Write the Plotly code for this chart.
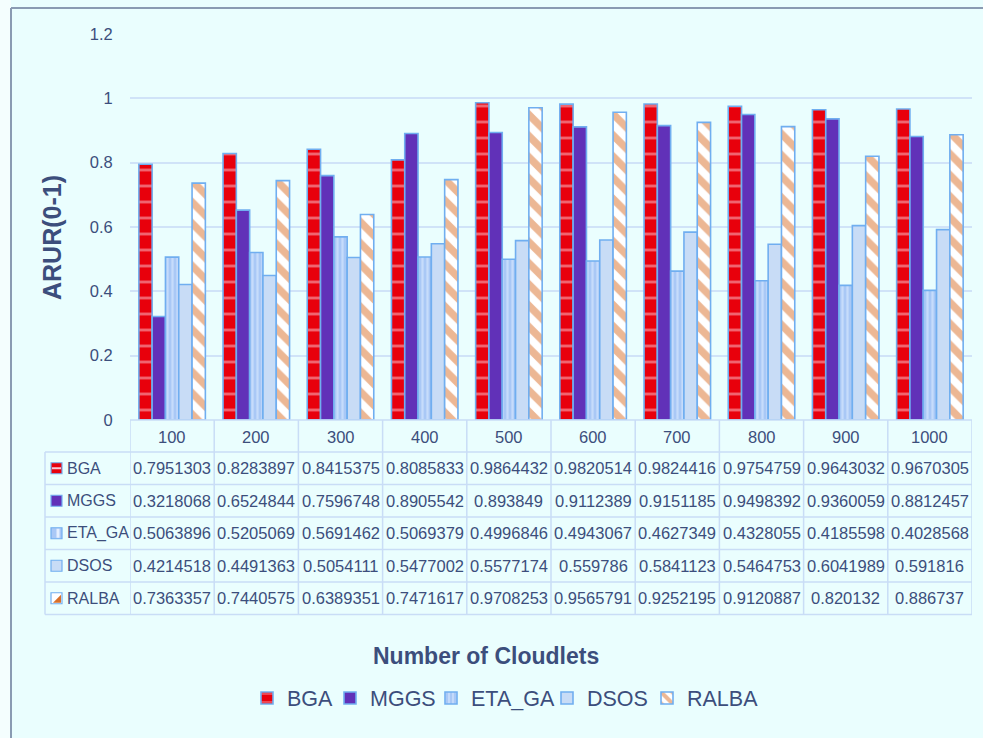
import plotly.graph_objects as go

# Average resource utilization ratio per algorithm and number of cloudlets
cloudlets = ["100", "200", "300", "400", "500", "600", "700", "800", "900", "1000"]
bga = [0.7951303, 0.8283897, 0.8415375, 0.8085833, 0.9864432,
       0.9820514, 0.9824416, 0.9754759, 0.9643032, 0.9670305]
mggs = [0.3218068, 0.6524844, 0.7596748, 0.8905542, 0.893849,
        0.9112389, 0.9151185, 0.9498392, 0.9360059, 0.8812457]
eta_ga = [0.5063896, 0.5205069, 0.5691462, 0.5069379, 0.4996846,
          0.4943067, 0.4627349, 0.4328055, 0.4185598, 0.4028568]
dsos = [0.4214518, 0.4491363, 0.5054111, 0.5477002, 0.5577174,
        0.559786, 0.5841123, 0.5464753, 0.6041989, 0.591816]
ralba = [0.7363357, 0.7440575, 0.6389351, 0.7471617, 0.9708253,
         0.9565791, 0.9252195, 0.9120887, 0.820132, 0.886737]
series_names = ["BGA", "MGGS", "ETA_GA", "DSOS", "RALBA"]
series_values = [bga, mggs, eta_ga, dsos, ralba]
y_ticks = [0, 0.2, 0.4, 0.6, 0.8, 1, 1.2]

W, H = 983, 738
L, R, T, B = 130, 11, 34, 318
PW, PH = W - L - R, H - T - B

TEXT = "#3c4e7c"
BG = "#eafefe"
BORDER = "#70aef0"
GRID = "#d0e3f8"
SANS = "Liberation Sans, Arial, sans-serif"
TABLE_FS = 16.5


def px(p):
    return (p - L) / PW


def py(p):
    return (H - B - p) / PH


styles = {
    "BGA": dict(color="#e8000c", pattern=dict(shape="-", fgcolor="#f7c9d4", bgcolor="#e8000c",
                                              size=16, solidity=0.18, fillmode="overlay")),
    "MGGS": dict(color="#6131b8"),
    "ETA_GA": dict(color="#a9c8f6", pattern=dict(shape="|", fgcolor="#e4efff", bgcolor="#a9c8f6",
                                                 size=5, solidity=0.45, fillmode="overlay")),
    "DSOS": dict(color="#c8dcf6"),
    "RALBA": dict(color="#ffffff", pattern=dict(shape="\\", fgcolor="#d9702a", bgcolor="#ffffff",
                                                size=15, solidity=0.5, fillmode="overlay")),
}

# left edge of each legend entry (one legend box per series)
legend_left = [247, 330, 431, 547, 647]
legend_ids = ["legend", "legend2", "legend3", "legend4", "legend5"]

fig = go.Figure()
for name, vals, lid in zip(series_names, series_values, legend_ids):
    st = styles[name]
    marker = dict(color=st["color"], line=dict(color=BORDER, width=1.6))
    if "pattern" in st:
        marker["pattern"] = st["pattern"]
    fig.add_trace(go.Bar(x=cloudlets, y=vals, name=name, marker=marker, legend=lid))

shapes = []
annotations = []

# Frame around the chart area
shapes.append(dict(type="rect", xref="paper", yref="paper", x0=px(-5), x1=px(11), y0=py(-5), y1=py(745),
                   fillcolor="#f4fefe", line=dict(width=0), layer="below"))
shapes.append(dict(type="line", xref="paper", yref="paper", x0=px(11), x1=px(11), y0=py(8), y1=py(745),
                   line=dict(color="#8a9bb2", width=2)))
shapes.append(dict(type="line", xref="paper", yref="paper", x0=px(11), x1=px(990), y0=py(8), y1=py(8),
                   line=dict(color="#8a9bb2", width=2)))

# Data table under the plot
row_edges = [452, 484.5, 517, 549.5, 582, 614.5]
tline = dict(color="#c9ddf6", width=1.5)
shapes.append(dict(type="line", xref="paper", yref="paper", x0=0, x1=1, y0=py(420), y1=py(420), line=tline))
for r in row_edges:
    shapes.append(dict(type="line", xref="paper", yref="paper", x0=px(45), x1=1, y0=py(r), y1=py(r), line=tline))
shapes.append(dict(type="line", xref="paper", yref="paper", x0=px(45), x1=px(45),
                   y0=py(row_edges[0]), y1=py(row_edges[-1]), line=tline))
for i in range(len(cloudlets) + 1):
    shapes.append(dict(type="line", xref="x", yref="paper", x0=i - 0.5, x1=i - 0.5,
                       y0=py(420), y1=py(row_edges[-1]), line=tline))

for i, c in enumerate(cloudlets):
    annotations.append(dict(x=i, y=py(437), xref="x", yref="paper", text=c, showarrow=False,
                            font=dict(family=SANS, size=TABLE_FS, color=TEXT), xanchor="center", yanchor="middle"))

for k, (name, vals) in enumerate(zip(series_names, series_values)):
    yc = (row_edges[k] + row_edges[k + 1]) / 2
    annotations.append(dict(x=px(65), y=py(yc), xref="paper", yref="paper", text=name, showarrow=False,
                            font=dict(family=SANS, size=16, color=TEXT), xanchor="left", yanchor="middle"))
    for i, v in enumerate(vals):
        annotations.append(dict(x=i, y=py(yc), xref="x", yref="paper", text=str(v), showarrow=False,
                                font=dict(family=SANS, size=TABLE_FS, color=TEXT), xanchor="center", yanchor="middle"))
    # small key swatch in front of the row label
    x0, x1, y0, y1 = 51, 62, yc - 5.5, yc + 5.5
    fill = styles[name]["color"]
    shapes.append(dict(type="rect", xref="paper", yref="paper", x0=px(x0), x1=px(x1), y0=py(y1), y1=py(y0),
                       fillcolor=fill, line=dict(color=BORDER, width=1.2)))
    if name == "BGA":
        shapes.append(dict(type="line", xref="paper", yref="paper", x0=px(x0 + 1), x1=px(x1 - 1),
                           y0=py(yc), y1=py(yc), line=dict(color="#f7c9d4", width=2)))
    elif name == "ETA_GA":
        shapes.append(dict(type="line", xref="paper", yref="paper", x0=px(x0 + 7), x1=px(x0 + 7),
                           y0=py(y1 - 1), y1=py(y0 + 1), line=dict(color="#e4efff", width=3)))
    elif name == "RALBA":
        path = "M {} {} L {} {} L {} {} Z".format(px(x1 - 1), py(y0 + 2), px(x1 - 1), py(y1 - 1),
                                                 px(x0 + 2), py(y1 - 1))
        shapes.append(dict(type="path", xref="paper", yref="paper", path=path,
                           fillcolor="#d9702a", line=dict(width=0)))

# Axis titles
annotations.append(dict(x=px(52), y=py(238), xref="paper", yref="paper", text="<b>ARUR(0-1)</b>",
                        textangle=-90, showarrow=False, font=dict(family=SANS, size=25, color=TEXT),
                        xanchor="center", yanchor="middle"))
annotations.append(dict(x=px(486), y=py(656), xref="paper", yref="paper", text="<b>Number of Cloudlets</b>",
                        showarrow=False, font=dict(family=SANS, size=23, color=TEXT),
                        xanchor="center", yanchor="middle"))

layout_legends = {}
for lid, left in zip(legend_ids, legend_left):
    layout_legends[lid] = dict(orientation="h", x=px(left), y=py(698), xanchor="left", yanchor="middle",
                               font=dict(family=SANS, size=21.5, color=TEXT), bgcolor="rgba(0,0,0,0)",
                               borderwidth=0)

fig.update_layout(
    width=W, height=H,
    margin=dict(l=L, r=R, t=T, b=B, pad=0),
    paper_bgcolor=BG, plot_bgcolor=BG,
    barmode="group", bargap=0.21, bargroupgap=0,
    showlegend=True,
    xaxis=dict(type="category", range=[-0.5, 9.5], showticklabels=False, showgrid=False,
               zeroline=False, showline=False, ticks=""),
    yaxis=dict(range=[0, 1.2], tickvals=y_ticks, showgrid=True, gridcolor=GRID, gridwidth=1.5,
               zeroline=False, showline=False, ticks="outside", ticklen=13, tickcolor="rgba(0,0,0,0)",
               tickfont=dict(family=SANS, size=16.5, color=TEXT)),
    shapes=shapes, annotations=annotations,
    **layout_legends,
)

fig.write_html("out.html")
